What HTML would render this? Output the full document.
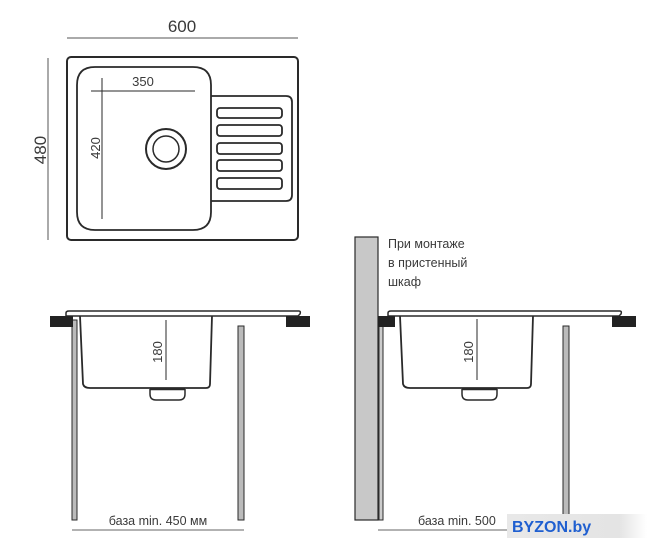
<!DOCTYPE html>
<html><head><meta charset="utf-8">
<style>
html,body{margin:0;padding:0;background:#fff;}
svg{display:block;}
text{font-family:"Liberation Sans","DejaVu Sans",sans-serif;fill:#3a3a3a;}
</style></head>
<body>
<svg width="659" height="550" viewBox="0 0 659 550" xmlns="http://www.w3.org/2000/svg">
<g fill="none" stroke="#2a2a2a">
<!-- top view -->
<line x1="67" y1="38" x2="298" y2="38" stroke="#555" stroke-width="1"/>
<line x1="48" y1="58" x2="48" y2="240" stroke="#555" stroke-width="1"/>
<rect x="67" y="57" width="231" height="183" rx="4" stroke-width="2"/>
<path d="M95,67 H193 Q211,67 211,85 V212 Q211,230 193,230 H95 Q77,230 77,212 V85 Q77,67 95,67 Z" stroke-width="1.8"/>
<path d="M211,96 H286 Q292,96 292,102 V195 Q292,201 286,201 H211" stroke-width="1.8"/>
<rect x="217" y="108" width="65" height="10" rx="3" stroke-width="1.8"/>
<rect x="217" y="125" width="65" height="11" rx="3" stroke-width="1.8"/>
<rect x="217" y="143" width="65" height="11" rx="3" stroke-width="1.8"/>
<rect x="217" y="160" width="65" height="11" rx="3" stroke-width="1.8"/>
<rect x="217" y="178" width="65" height="11" rx="3" stroke-width="1.8"/>
<circle cx="166" cy="149" r="20" stroke-width="2"/>
<circle cx="166" cy="149" r="13" stroke-width="1.5"/>
<line x1="91" y1="91" x2="195" y2="91" stroke-width="1"/>
<line x1="102" y1="78" x2="102" y2="219" stroke-width="1"/>

<!-- left section -->
<rect x="72" y="320" width="5" height="200" fill="#bbb" stroke-width="1"/>
<rect x="238" y="326" width="6" height="194" fill="#bbb" stroke-width="1"/>
<path d="M66,316 V313 Q66,311 69,311 H299 Q301,311 300,314 L298,316 Z" fill="#fff" stroke-width="1.5"/>
<path d="M80,316 L83,384 Q84,388 90,388 H206 Q210,388 210,384 L212,316" stroke-width="1.8"/>
<path d="M150,389 V394 Q150,400 156,400 H179 Q185,400 185,394 V389" stroke-width="1.5"/>
<line x1="150" y1="389" x2="185" y2="389" stroke-width="2.5"/>
<line x1="166" y1="320" x2="166" y2="380" stroke-width="1"/>
<line x1="72" y1="530" x2="244" y2="530" stroke="#666" stroke-width="1"/>

<!-- right section -->
<rect x="355" y="237" width="23" height="283" fill="#c8c8c8" stroke-width="1.2"/>
<rect x="379" y="326" width="4" height="194" fill="#ccc" stroke-width="1"/>
<rect x="563" y="326" width="6" height="194" fill="#bbb" stroke-width="1"/>
<path d="M388,316 V313 Q388,311 391,311 H620 Q622,311 621,314 L619,316 Z" fill="#fff" stroke-width="1.5"/>
<path d="M400,316 L403,384 Q404,388 410,388 H527 Q531,388 531,384 L533,316" stroke-width="1.8"/>
<path d="M462,389 V394 Q462,400 468,400 H491 Q497,400 497,394 V389" stroke-width="1.5"/>
<line x1="462" y1="389" x2="497" y2="389" stroke-width="2.5"/>
<line x1="477" y1="319" x2="477" y2="380" stroke-width="1"/>
<line x1="378" y1="530" x2="510" y2="530" stroke="#666" stroke-width="1"/>
</g>
<!-- black blocks -->
<rect x="50" y="316" width="23" height="11" fill="#222"/>
<rect x="286" y="316" width="24" height="11" fill="#222"/>
<rect x="378" y="316" width="17" height="11" fill="#222"/>
<rect x="612" y="316" width="24" height="11" fill="#222"/>

<!-- texts -->
<text x="182" y="32" font-size="17" text-anchor="middle">600</text>
<text transform="translate(46,150) rotate(-90)" font-size="17" text-anchor="middle">480</text>
<text x="143" y="86" font-size="13" text-anchor="middle">350</text>
<text transform="translate(100,148) rotate(-90)" font-size="13" text-anchor="middle">420</text>
<text transform="translate(162,352) rotate(-90)" font-size="13" text-anchor="middle">180</text>
<text transform="translate(473,352) rotate(-90)" font-size="13" text-anchor="middle">180</text>
<text x="158" y="525" font-size="12.5" text-anchor="middle">база min. 450 мм</text>
<text x="418" y="525" font-size="12.5">база min. 500</text>
<text x="388" y="248" font-size="12.5">При монтаже</text>
<text x="388" y="267" font-size="12.5">в пристенный</text>
<text x="388" y="286" font-size="12.5">шкаф</text>
<defs><linearGradient id="g" x1="0" x2="1"><stop offset="0" stop-color="#e8e8e8"/><stop offset="0.8" stop-color="#e4e4e4"/><stop offset="1" stop-color="#fff"/></linearGradient></defs>
<rect x="507" y="514" width="140" height="24" fill="url(#g)"/>
<text x="512" y="532" font-size="16" font-weight="bold" style="fill:#1f5fd0">BYZON.by</text>
</svg>
</body></html>
